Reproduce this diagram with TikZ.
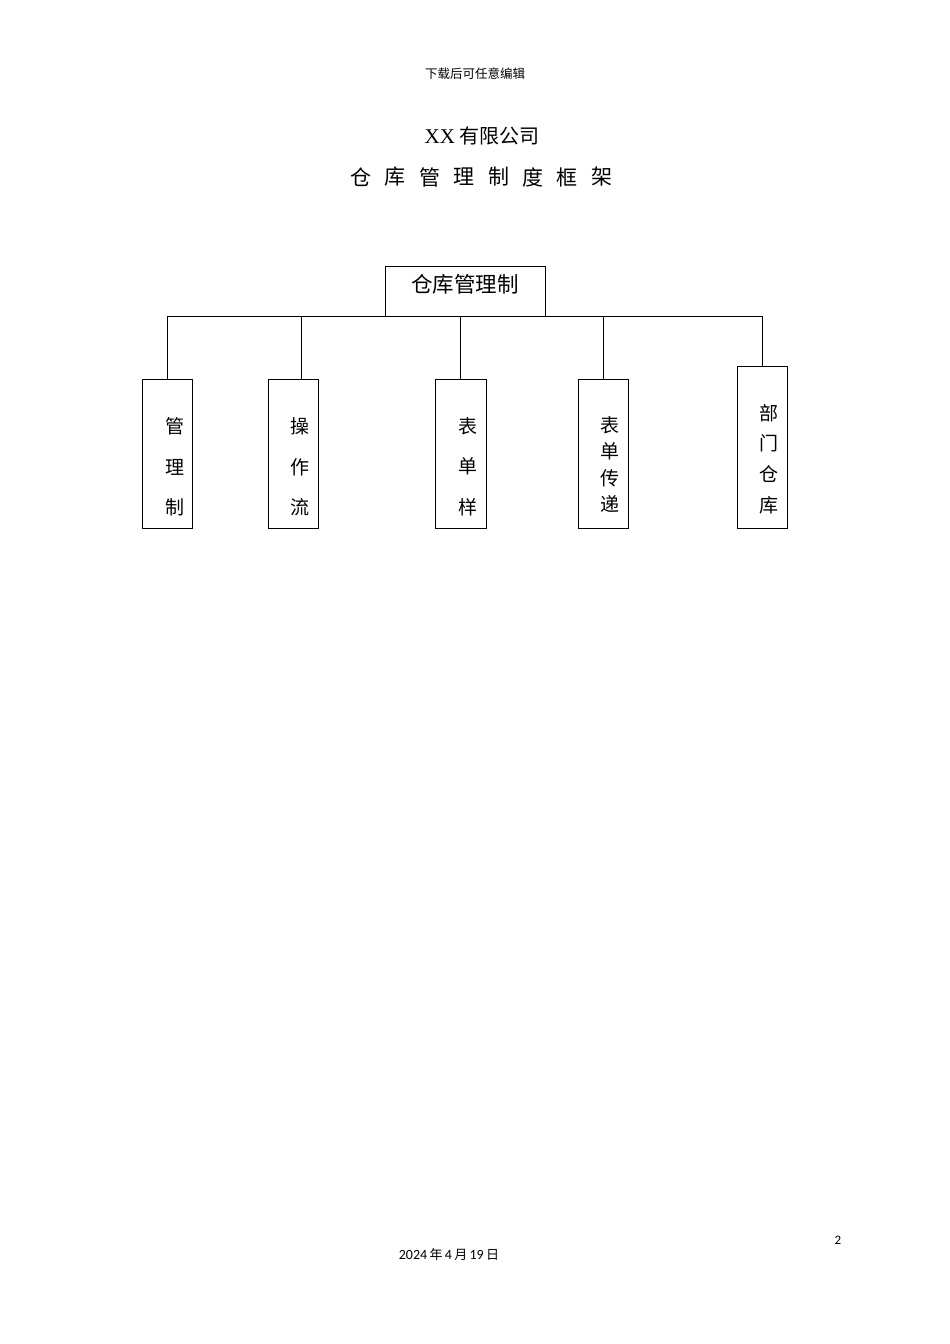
\documentclass[tikz,border=0pt]{standalone}
\usepackage{fontspec}
\newfontfamily\cjk{Noto Sans CJK SC}
\newfontfamily\lat{Carlito}
\newfontfamily\ser{Liberation Serif}
\begin{document}
\begin{tikzpicture}[x=1pt,y=-1pt,
  box/.style={draw,line width=1pt,inner sep=0pt},
  ch/.style={font=\cjk\fontsize{19}{19}\selectfont,inner sep=0pt},
  conn/.style={line width=1pt}]
\useasboundingbox (0,0) rectangle (950,1344);
% header
\node[font=\cjk\fontsize{12.5}{12.5}\selectfont] (hdr) at (475,74) {下载后可任意编辑};
\node[font=\cjk\fontsize{20}{20}\selectfont] (t1) at (482,136) {{\ser\fontsize{21}{21}\selectfont XX} 有限公司};
\foreach \c [count=\i from 0] in {仓,库,管,理,制,度,框,架}
  \node[font=\cjk\fontsize{21}{21}\selectfont] (t2\i) at (361+34.4*\i,177) {\c};
% top box
\node[box,minimum width=160pt,minimum height=50pt] (top) at (465,291) {};
\node[font=\cjk\fontsize{21.5}{21.5}\selectfont,inner sep=0pt] (toptxt) at (465,284) {仓库管理制};
% child boxes
\node[box,minimum width=50pt,minimum height=149pt] (b1) at (167,453.5) {};
\node[box,minimum width=50pt,minimum height=149pt] (b2) at (293,453.5) {};
\node[box,minimum width=51pt,minimum height=149pt] (b3) at (460.5,453.5) {};
\node[box,minimum width=50pt,minimum height=149pt] (b4) at (603,453.5) {};
\node[box,minimum width=50pt,minimum height=162pt] (b5) at (762,447) {};
% connectors
\coordinate (hl) at (167,316);
\coordinate (hr) at (762,316);
\coordinate (h2) at (301,316);
\coordinate (h3) at (460,316);
\coordinate (h4) at (603,316);
\draw[conn] (hl) -- (hr);
\draw[conn] (hl) -- (b1.north);
\draw[conn] (h2) -- (h2 |- b2.north);
\draw[conn] (h3) -- (h3 |- b3.north);
\draw[conn] (h4) -- (b4.north);
\draw[conn] (hr) -- (b5.north);
% texts
\node[ch] (a1) at (175,426) {管};
\node[ch] (a2) at (175,467) {理};
\node[ch] (a3) at (175,507) {制};
\node[ch] (c1) at (300,426) {操};
\node[ch] (c2) at (300,467) {作};
\node[ch] (c3) at (300,507) {流};
\node[ch] (d1) at (468,426) {表};
\node[ch] (d2) at (468,466) {单};
\node[ch] (d3) at (468,507) {样};
\node[ch] (e1) at (610,425) {表};
\node[ch] (e2) at (610,451) {单};
\node[ch] (e3) at (610,478) {传};
\node[ch] (e4) at (610,504) {递};
\node[ch] (f1) at (769,413) {部};
\node[ch] (f2) at (769,443) {门};
\node[ch] (f3) at (769,474) {仓};
\node[ch] (f4) at (769,505) {库};
% footer
\node[font=\lat\fontsize{13}{13}\selectfont] (pg) at (838,1240) {2};
\node[font=\lat\fontsize{14}{14}\selectfont] (date) at (449,1255) {2024\,{\cjk\fontsize{13}{13}\selectfont 年}\,4\,{\cjk\fontsize{13}{13}\selectfont 月}\,19\,{\cjk\fontsize{13}{13}\selectfont 日}};
\end{tikzpicture}
\end{document}
